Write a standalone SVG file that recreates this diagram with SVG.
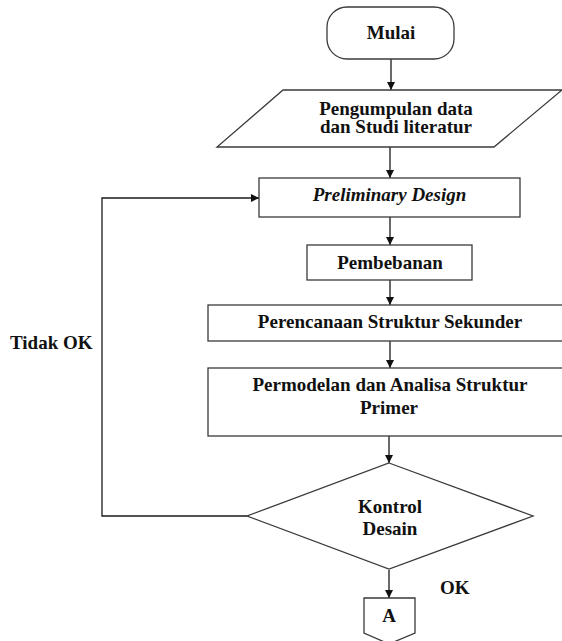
<svg xmlns="http://www.w3.org/2000/svg" width="562" height="641" viewBox="0 0 562 641">
  <style>
    .shape { fill: #ffffff; stroke: #3a3a3a; stroke-width: 1.3; }
    .edge { fill: none; stroke: #1a1a1a; stroke-width: 1.3; }
    text { font-family: "Liberation Serif", "Times New Roman", serif; font-weight: bold; font-size: 19px; fill: #111111; }
    .c { text-anchor: middle; }
  </style>
  <defs>
    <marker id="arrow" viewBox="0 0 10 10" refX="10" refY="5" markerWidth="8" markerHeight="8" markerUnits="userSpaceOnUse" orient="auto">
      <path d="M0,0 L10,5 L0,10 Z" fill="#111111"/>
    </marker>
  </defs>
  <rect width="562" height="641" fill="#ffffff"/>

  <g id="connectors">
    <line class="edge" x1="391" y1="59" x2="391" y2="90" marker-end="url(#arrow)"/>
    <line class="edge" x1="390" y1="147" x2="390" y2="178" marker-end="url(#arrow)"/>
    <line class="edge" x1="390" y1="217" x2="390" y2="245" marker-end="url(#arrow)"/>
    <line class="edge" x1="390" y1="280" x2="390" y2="305" marker-end="url(#arrow)"/>
    <line class="edge" x1="390" y1="341" x2="390" y2="368" marker-end="url(#arrow)"/>
    <line class="edge" x1="389" y1="436" x2="389" y2="463" marker-end="url(#arrow)"/>
    <line class="edge" x1="389" y1="570" x2="389" y2="598" marker-end="url(#arrow)"/>
    <polyline class="edge" points="247,516 102,516 102,198 259,198" marker-end="url(#arrow)"/>
    <text x="10" y="349">Tidak OK</text>
    <text x="440" y="594">OK</text>
  </g>

  <g id="mulai">
    <rect class="shape" x="327" y="7" width="127" height="52" rx="20" ry="20"/>
    <text class="c" x="391" y="39">Mulai</text>
  </g>

  <g id="pengumpulan-data">
    <polygon class="shape" points="283,90 562,90 494,147 217,147"/>
    <text class="c" x="396" y="115">Pengumpulan data</text>
    <text class="c" x="396" y="133">dan Studi literatur</text>
  </g>

  <g id="preliminary-design">
    <rect class="shape" x="259" y="178" width="261" height="39"/>
    <text class="c" x="389.5" y="201" font-style="italic">Preliminary Design</text>
  </g>

  <g id="pembebanan">
    <rect class="shape" x="307" y="245" width="165" height="35"/>
    <text class="c" x="390" y="269">Pembebanan</text>
  </g>

  <g id="perencanaan">
    <rect class="shape" x="208" y="305" width="370" height="36"/>
    <text class="c" x="390" y="328">Perencanaan Struktur Sekunder</text>
  </g>

  <g id="permodelan">
    <rect class="shape" x="208" y="368" width="370" height="68"/>
    <text class="c" x="390" y="391">Permodelan dan Analisa Struktur</text>
    <text class="c" x="389" y="414">Primer</text>
  </g>

  <g id="kontrol-desain">
    <polygon class="shape" points="389,463 533,516 389,569 247,516"/>
    <text class="c" x="390" y="513">Kontrol</text>
    <text class="c" x="390" y="535">Desain</text>
  </g>

  <g id="connector-a">
    <polygon class="shape" points="364,598 415,598 415,633 389,644 364,633"/>
    <text class="c" x="389" y="622">A</text>
  </g>
</svg>
